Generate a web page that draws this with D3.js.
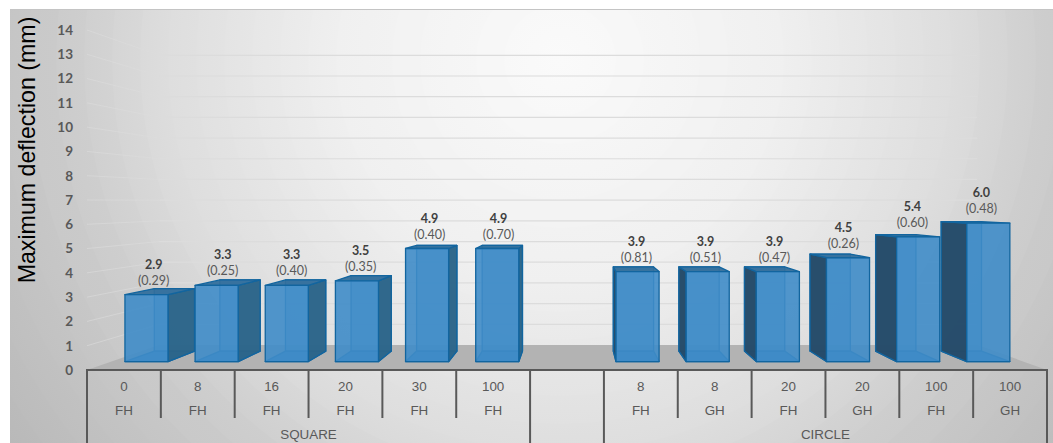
<!DOCTYPE html>
<html>
<head>
<meta charset="utf-8">
<script src="https://cdn.jsdelivr.net/npm/d3@7"></script>
<style>
  html, body { margin: 0; padding: 0; background: #fff; }
  svg { display: block; }
  .cat { font: 13.4px "Liberation Sans", Arial, sans-serif; fill: #595959; text-anchor: middle; }
  .val { font: bold 12.5px Lato, sans-serif; fill: #404040; text-anchor: middle; }
  .sd { font: 12.5px Lato, sans-serif; fill: #595959; text-anchor: middle; }
  .tick text { font: bold 13.5px Lato, sans-serif; fill: #595959; }
</style>
</head>
<body>
<svg width="1053" height="443"></svg>
<script>
// values
const slots = [0, 1, 2, 3, 4, 5, 7, 8, 9, 10, 11, 12];
const hatch = ['0', '8', '16', '20', '30', '100', '8', '8', '20', '20', '100', '100'];
const head = ['FH', 'FH', 'FH', 'FH', 'FH', 'FH', 'FH', 'GH', 'FH', 'GH', 'FH', 'GH'];
const deflection = [2.9, 3.3, 3.3, 3.5, 4.9, 4.9, 3.9, 3.9, 3.9, 4.5, 5.4, 6.0];
const spread = ['0.29', '0.25', '0.40', '0.35', '0.40', '0.70', '0.81', '0.51', '0.47', '0.26', '0.60', '0.48'];
const groups = [{ name: 'SQUARE', from: 0, to: 5 }, { name: 'CIRCLE', from: 7, to: 12 }];
const yTicks = d3.range(0, 15);

const svg = d3.select('svg');

// scales of the front plane (the axis plane)
let x = d3.scaleBand().domain(d3.range(13)).range([87, 1047]);
let y = d3.scaleLinear().domain([0, 14]).range([370, 30]);

// 3D look: pull a point towards the vanishing point by depth t
const vp = [575, 201];
const barFront = 0.05, barBack = 0.112, wallDepth = 0.148;
function project(px, v, t) {
  let py = y(v);
  return [px + (vp[0] - px) * t, py + (vp[1] - py) * t];
}

// background with faint rings
let defs = svg.append('defs');
let shade = d3.scaleLinear()
  .domain([0, 0.3, 0.54, 0.7, 0.79, 0.95, 1])
  .range(['#fafafa', '#f0f0f0', '#dfdfdf', '#cccccc', '#c5c5c5', '#b9b9b9', '#b6b6b6']);
let grad = defs.append('radialGradient').attr('id', 'bg')
  .attr('gradientUnits', 'userSpaceOnUse')
  .attr('cx', 560).attr('cy', 60).attr('r', 700);
let bands = d3.range(0, 1, 0.04);
bands.forEach((b) => {
  grad.append('stop').attr('offset', b).attr('stop-color', shade(b));
  grad.append('stop').attr('offset', b + 0.039).attr('stop-color', shade(b + 0.025));
});
svg.append('rect').attr('x', 10).attr('y', 9.5).attr('width', 1043).attr('height', 434).attr('fill', 'url(#bg)');
svg.append('line').attr('x1', 10).attr('x2', 1053).attr('y1', 9.5).attr('y2', 9.5).attr('stroke', '#c4c4c4');

// floor
let left = x.range()[0], right = x.range()[1];
svg.append('polygon')
  .attr('points', [project(left, 0, 0), project(left, 0, wallDepth), project(right, 0, wallDepth), project(right, 0, 0)].join(' '))
  .attr('fill', '#b3b3b3');

// gridlines: side wall then back wall
yTicks.slice(1).forEach((v) => {
  let a = project(left, v, 0), b = project(left, v, wallDepth), c = project(right, v, wallDepth);
  svg.append('line')
    .attr('x1', a[0]).attr('y1', a[1]).attr('x2', b[0]).attr('y2', b[1])
    .attr('stroke', '#dcdcdc')
    .attr('stroke-opacity', 0.6);
  svg.append('line')
    .attr('x1', b[0]).attr('y1', b[1]).attr('x2', c[0]).attr('y2', c[1])
    .attr('stroke', '#dcdcdc')
    .attr('stroke-width', 1.2);
});

// y axis
let axis = d3.axisLeft(y).tickValues(yTicks).tickSize(0).tickPadding(0).tickFormat(d3.format('d'));
let axisG = svg.append('g').attr('transform', 'translate(73,0)').call(axis);
axisG.select('.domain').remove();

svg.append('text')
  .attr('transform', 'translate(35,150) rotate(-90)')
  .attr('text-anchor', 'middle')
  .style('font', '23.2px "Liberation Sans", Arial, sans-serif')
  .style('fill', '#000')
  .text('Maximum deflection (mm)');

// bars
const barInset = x.bandwidth() * 0.193;
const edge = '#12659f';

function face(g, pts, fill, opacity) {
  g.append('polygon')
    .attr('points', pts.join(' '))
    .attr('fill', fill)
    .attr('fill-opacity', opacity)
    .attr('stroke', edge)
    .attr('stroke-width', 1.3)
    .attr('stroke-linejoin', 'round');
}

slots.forEach((s, i) => {
  let g = svg.append('g');
  let x0 = x(s) + barInset, x1 = x(s) + x.bandwidth() - barInset;
  let v = deflection[i];
  let isLeft = i < 6;

  let p = (px, val, t) => project(px, val, t);

  // inner faces first
  face(g, [p(x0, v, barBack), p(x1, v, barBack), p(x1, 0, barBack), p(x0, 0, barBack)], '#4a93c8', 0.6);
  face(g, [p(x0, 0, barFront), p(x1, 0, barFront), p(x1, 0, barBack), p(x0, 0, barBack)], '#2f7fbf', 0.9);

  // side towards the centre of the view
  if (isLeft) {
    face(g, [p(x1, v, barFront), p(x1, v, barBack), p(x1, 0, barBack), p(x1, 0, barFront)], '#2b6488', 0.95);
  } else {
    face(g, [p(x0, v, barFront), p(x0, v, barBack), p(x0, 0, barBack), p(x0, 0, barFront)], '#254a68', 0.97);
  }
  face(g, [p(x0, v, barFront), p(x1, v, barFront), p(x1, v, barBack), p(x0, v, barBack)], '#336f9c', 0.95);

  // front, see-through so the back edges show
  face(g, [p(x0, v, barFront), p(x1, v, barFront), p(x1, 0, barFront), p(x0, 0, barFront)], '#3f8cc8', 0.9);

  let top = p(x0, v, barFront)[1];
  let lx = p((x0 + x1) / 2, v, 0.066)[0];
  svg.append('text').attr('class', 'val').attr('x', lx).attr('y', top - 26).text(v.toFixed(1));
  svg.append('text').attr('class', 'sd').attr('x', lx).attr('y', top - 10).text('(' + spread[i] + ')');
});

// category table below the axis
let rule = (x1, y1, x2, y2) => svg.append('line')
  .attr('x1', x1).attr('y1', y1).attr('x2', x2).attr('y2', y2)
  .attr('stroke', '#595959').attr('stroke-width', 2);

rule(left - 1, y(0), right + 1, y(0));
d3.range(14).forEach((k) => {
  let px = k < 13 ? x(k) : right;
  let full = k === 0 || k === 6 || k === 7 || k === 13;
  rule(px, y(0), px, full ? 443 : 418);
});

slots.forEach((s, i) => {
  let cx = x(s) + x.bandwidth() / 2;
  svg.append('text').attr('class', 'cat').attr('x', cx).attr('y', 390.5).text(hatch[i]);
  svg.append('text').attr('class', 'cat').attr('x', cx).attr('y', 414.5).text(head[i]);
});

groups.forEach((d) => {
  let cx = (x(d.from) + x(d.to) + x.bandwidth()) / 2;
  svg.append('text').attr('class', 'cat').attr('x', cx).attr('y', 439).text(d.name);
});
</script>
</body>
</html>
